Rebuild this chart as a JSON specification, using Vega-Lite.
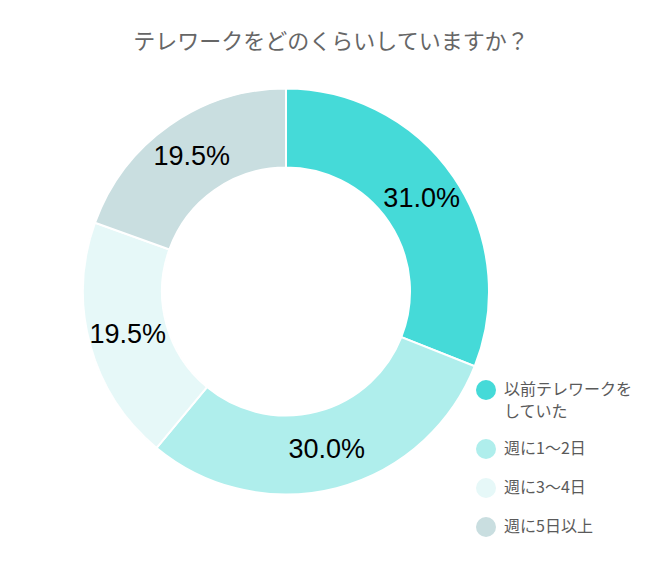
{
  "$schema": "https://vega.github.io/schema/vega-lite/v6.json",
  "width": 572,
  "height": 463,
  "autosize": {"type": "none"},
  "padding": {"left": 0, "top": 60, "right": 78, "bottom": 60},
  "background": "white",
  "title": {
    "text": "テレワークをどのくらいしていますか？",
    "font": "Noto Sans CJK JP",
    "fontSize": 22,
    "fontWeight": "normal",
    "color": "#666666",
    "anchor": "middle",
    "baseline": "middle",
    "offset": 17,
    "dx": 45,
    "dy": 21
  },
  "data": {
    "values": [
      {"category": "以前テレワークをしていた", "share": 0.310, "order": 1},
      {"category": "週に1～2日", "share": 0.300, "order": 2},
      {"category": "週に3～4日", "share": 0.195, "order": 3},
      {"category": "週に5日以上", "share": 0.195, "order": 4}
    ]
  },
  "encoding": {
    "theta": {"field": "share", "type": "quantitative", "stack": true},
    "order": {"field": "order", "type": "quantitative"}
  },
  "layer": [
    {
      "mark": {"type": "arc", "innerRadius": 124, "outerRadius": 203, "stroke": "white", "strokeWidth": 2},
      "encoding": {
        "color": {
          "field": "category",
          "type": "nominal",
          "scale": {
            "domain": ["以前テレワークをしていた", "週に1～2日", "週に3～4日", "週に5日以上"],
            "range": ["#45DAD8", "#AFEEEC", "#E6F8F8", "#C9DEE0"]
          },
          "legend": {
            "title": null,
            "orient": "none",
            "legendX": 476,
            "legendY": 320,
            "padding": 0,
            "symbolType": "circle",
            "symbolSize": 400,
            "symbolStrokeWidth": 0,
            "symbolOpacity": 1,
            "labelFont": "Noto Sans CJK JP",
            "labelFontSize": 16,
            "labelColor": "#5a5a5a",
            "labelOffset": 8,
            "labelLimit": 300,
            "rowPadding": 19,
            "labelExpr": "datum.label == '以前テレワークをしていた' ? ['以前テレワークを', 'していた'] : datum.label",
            "encoding": {
              "labels": {
                "lineHeight": {"value": 22}
              }
            }
          }
        }
      }
    },
    {
      "mark": {"type": "text", "radius": 164, "font": "Liberation Sans", "fontSize": 27, "color": "#000000"},
      "encoding": {
        "text": {"field": "share", "type": "quantitative", "format": ".1%"}
      }
    }
  ]
}
